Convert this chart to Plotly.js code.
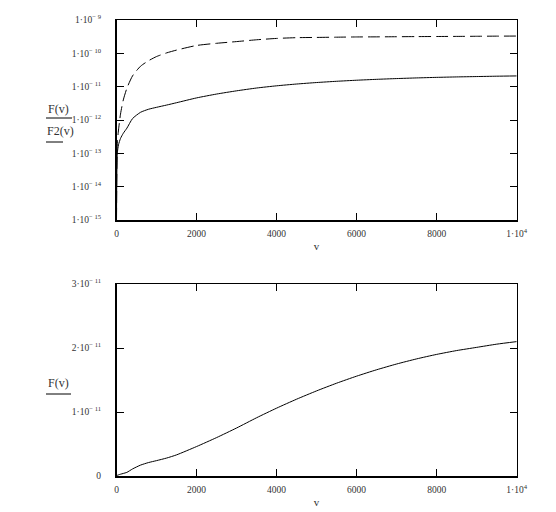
<!DOCTYPE html>
<html>
<head>
<meta charset="utf-8">
<script src="https://cdn.plot.ly/plotly-3.0.1.min.js"></script>
<style>
  html, body { margin: 0; padding: 0; background: #fff; }
  #chart { width: 556px; height: 512px; }
</style>
</head>
<body>
<div id="chart"></div>
<script>
// Sample points v and the two functions F(v), F2(v)
const v = [0, 20, 50, 100, 170, 260, 400, 600, 800, 1000, 1250, 1500, 2000, 2500,
  3000, 3500, 4000, 4500, 5000, 5500, 6000, 6500, 7000, 7500, 8000, 8500, 9000, 9500, 10000];
const F = [1e-15, 1e-13, 1.8e-13, 2.8e-13, 4e-13, 5.7e-13, 1.1e-12, 1.7e-12, 2.1e-12, 2.4e-12,
  2.8e-12, 3.3e-12, 4.6e-12, 6.0e-12, 7.5e-12, 9.1e-12, 1.06e-11, 1.2e-11, 1.33e-11, 1.45e-11,
  1.56e-11, 1.66e-11, 1.75e-11, 1.83e-11, 1.9e-11, 1.96e-11, 2.01e-11, 2.06e-11, 2.1e-11];
const F2 = [1e-15, 2e-13, 5e-13, 1.5e-12, 4e-12, 9e-12, 2.1e-11, 4.1e-11, 6e-11, 8e-11,
  1.03e-10, 1.25e-10, 1.72e-10, 2.0e-10, 2.25e-10, 2.55e-10, 2.8e-10, 2.95e-10, 3.0e-10, 3.05e-10,
  3.1e-10, 3.12e-10, 3.15e-10, 3.18e-10, 3.2e-10, 3.22e-10, 3.25e-10, 3.28e-10, 3.3e-10];

// Tick values and labels
const xTickVals = [0, 2000, 4000, 6000, 8000, 10000];
const xTickText = ['0', '2000', '4000', '6000', '8000', '1\u00b710<sup>4</sup>'];
const logTickVals = [1e-15, 1e-14, 1e-13, 1e-12, 1e-11, 1e-10, 1e-9];
const logTickText = ['15', '14', '13', '12', '11', '10', '9'].map(e => '1\u00b710<sup>\u2212 ' + e + '</sup>');
const linTickVals = [0, 1e-11, 2e-11, 3e-11];
const linTickText = ['0', '1\u00b710<sup>\u2212 11</sup>', '2\u00b710<sup>\u2212 11</sup>', '3\u00b710<sup>\u2212 11</sup>'];

const W = 556, H = 512;
const px = x => x / W;
const py = y => 1 - y / H;

const serif = 'Liberation Serif, DejaVu Serif, serif';
const tickFont = { family: serif, size: 9.5, color: '#333' };
const labelFont = { family: serif, size: 12, color: '#333' };

const axisCommon = {
  showline: true, linecolor: '#000', linewidth: 1.5, mirror: 'ticks',
  ticks: 'inside', ticklen: 7, tickwidth: 1, tickcolor: '#000',
  showgrid: false, zeroline: false, tickfont: tickFont, automargin: false
};

const traces = [
  { x: v, y: F2, xaxis: 'x', yaxis: 'y', mode: 'lines',
    line: { color: '#000', width: 1, dash: '12px,5px', shape: 'spline', smoothing: 0.6 } },
  { x: v, y: F, xaxis: 'x', yaxis: 'y', mode: 'lines',
    line: { color: '#000', width: 1, shape: 'spline', smoothing: 0.6 } },
  { x: v, y: F, xaxis: 'x2', yaxis: 'y2', mode: 'lines',
    line: { color: '#000', width: 1, shape: 'spline', smoothing: 0.6 } }
];

const layout = {
  width: W, height: H,
  margin: { l: 0, r: 0, t: 0, b: 0 },
  paper_bgcolor: '#fff', plot_bgcolor: '#fff',
  showlegend: false,
  xaxis: Object.assign({}, axisCommon, {
    domain: [px(116.5), px(516.7)], range: [0, 10000], anchor: 'y',
    tickvals: xTickVals, ticktext: xTickText, ticklabelstandoff: 4,
    title: { text: 'v', font: { family: serif, size: 11, color: '#333' }, standoff: 4 }
  }),
  yaxis: Object.assign({}, axisCommon, {
    domain: [py(220), py(20)], type: 'log', range: [-15, -9], anchor: 'x',
    tickvals: logTickVals, ticktext: logTickText, ticklabelstandoff: 12
  }),
  xaxis2: Object.assign({}, axisCommon, {
    domain: [px(116.5), px(516.7)], range: [0, 10000], anchor: 'y2',
    tickvals: xTickVals, ticktext: xTickText, ticklabelstandoff: 4,
    title: { text: 'v', font: { family: serif, size: 11, color: '#333' }, standoff: 4 }
  }),
  yaxis2: Object.assign({}, axisCommon, {
    domain: [py(476), py(284)], range: [0, 3e-11], anchor: 'x2',
    tickvals: linTickVals, ticktext: linTickText, ticklabelstandoff: 12
  }),
  annotations: [
    { text: 'F(v)', xref: 'paper', yref: 'paper', x: px(58), y: py(109), showarrow: false,
      xanchor: 'center', yanchor: 'middle', font: labelFont },
    { text: 'F2(v)', xref: 'paper', yref: 'paper', x: px(60), y: py(131), showarrow: false,
      xanchor: 'center', yanchor: 'middle', font: labelFont },
    { text: 'F(v)', xref: 'paper', yref: 'paper', x: px(58), y: py(383), showarrow: false,
      xanchor: 'center', yanchor: 'middle', font: labelFont }
  ],
  shapes: [
    { type: 'line', xref: 'paper', yref: 'paper', x0: px(46), x1: px(72), y0: py(118), y1: py(118),
      line: { color: '#000', width: 1 } },
    { type: 'line', xref: 'paper', yref: 'paper', x0: px(46), x1: px(63), y0: py(142), y1: py(142),
      line: { color: '#000', width: 1 } },
    { type: 'line', xref: 'paper', yref: 'paper', x0: px(46), x1: px(71), y0: py(394), y1: py(394),
      line: { color: '#000', width: 1 } }
  ]
};

Plotly.newPlot('chart', traces, layout, { staticPlot: true, displayModeBar: false });
</script>
</body>
</html>
